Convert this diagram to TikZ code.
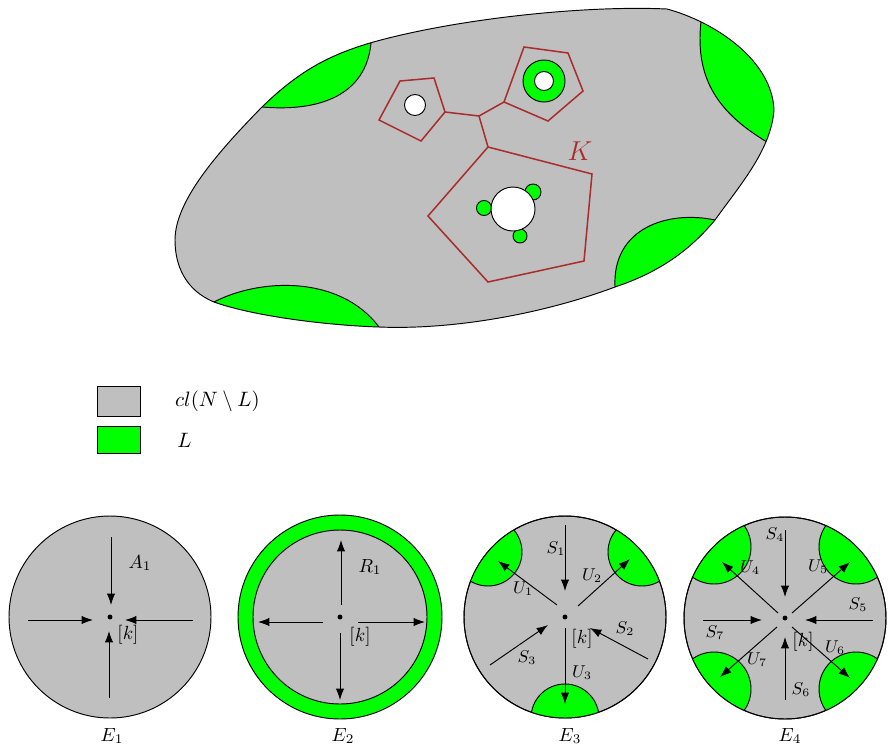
\documentclass[tikz,border=0pt]{standalone}
\usepackage{amsmath,amssymb}
\usepackage{tikz}
\usepackage{xcolor}
\usetikzlibrary{arrows.meta,positioning}

\definecolor{kred}{RGB}{170,45,45}

% outline of the manifold N
\def\blob{(175,240) .. controls (175,200) and (220,150) .. (262,107)
  .. controls (300,70) and (330,55) .. (370,43)
  .. controls (450,20) and (580,5) .. (667,9)
  .. controls (715,22) and (772,60) .. (774,110)
  .. controls (771,150) and (740,185) .. (715,220)
  .. controls (690,250) and (660,272) .. (615,287)
  .. controls (540,315) and (450,330) .. (379,327)
  .. controls (320,325) and (250,315) .. (214,302)
  .. controls (185,290) and (175,265) .. (175,240) -- cycle}

\begin{document}
\begin{tikzpicture}[x=0.0185cm, y=-0.0185cm, every node/.style={font=\normalsize},
    arr/.style={-{Latex[length=6pt,width=4.4pt]}, line width=0.5pt},
    cdot/.style={circle, fill=black, inner sep=0pt, minimum size=2.6pt},
    lbl/.style={font=\small},
    legbox/.style={draw, line width=0.5pt, minimum width=0.81cm, inner sep=0pt}]
  \useasboundingbox (0,0) rectangle (889,749);

  % the manifold N
  \fill[lightgray] \blob;
  \begin{scope}
    \clip \blob;
    \fill[green] (371,43) .. controls (366,95) and (320,112) .. (262,107) -- (200,100) -- (200,0) -- (380,0) -- cycle;
    \fill[green] (702,14) .. controls (692,80) and (720,115) .. (772,145) -- (820,150) -- (820,0) -- (700,0) -- cycle;
    \fill[green] (715,220) .. controls (668,210) and (612,228) .. (615,287) -- (620,340) -- (800,340) -- (800,220) -- cycle;
    \fill[green] (214,302) .. controls (260,278) and (340,275) .. (379,327) -- (390,360) -- (180,360) -- cycle;
    \draw[line width=0.5pt] (371,43) .. controls (366,95) and (320,112) .. (262,107);
    \draw[line width=0.5pt] (702,14) .. controls (692,80) and (720,115) .. (772,145);
    \draw[line width=0.5pt] (715,220) .. controls (668,210) and (612,228) .. (615,287);
    \draw[line width=0.5pt] (214,302) .. controls (260,278) and (340,275) .. (379,327);
  \end{scope}
  \draw[line width=0.5pt] \blob;

  % holes and pieces of L
  \filldraw[fill=white, line width=0.5pt] (415,105) circle[radius=10.5];
  \filldraw[fill=green, line width=0.5pt] (544,81) circle[radius=21];
  \filldraw[fill=white, line width=0.5pt] (544,81) circle[radius=9.5];
  \filldraw[fill=green, line width=0.5pt] (484,208) circle[radius=7.5];
  \filldraw[fill=green, line width=0.5pt] (533,192) circle[radius=8];
  \filldraw[fill=green, line width=0.5pt] (520,236) circle[radius=7];
  \filldraw[fill=white, line width=0.5pt] (513,209) circle[radius=22];

  % the complex K
  \draw[kred, line width=0.8pt] (400,81) -- (434,78) -- (445,112) -- (421,141) -- (379,120) -- cycle;
  \draw[kred, line width=0.8pt] (524,47) -- (568,53) -- (583,91) -- (548,121) -- (504,102) -- cycle;
  \draw[kred, line width=0.8pt] (488,147) -- (592,174) -- (584,261) -- (488,282) -- (428,216) -- cycle;
  \draw[kred, line width=0.8pt] (445,112) -- (479,116) -- (504,102);
  \draw[kred, line width=0.8pt] (479,116) -- (488,147);
  \node[kred, font=\Large] (K) at (580,151) {$K$};

  % legend
  \node[legbox, fill=lightgray, minimum height=0.54cm] (legN) at (119,401.5) {};
  \node[legbox, fill=green, minimum height=0.5cm] (legL) at (119,440) {};
  \node[right=0.5cm of legN, font=\fontsize{11}{13}\selectfont] (txtN) {$cl(N\setminus L)$};
  \node[right=0.54cm of legL, font=\fontsize{11}{13}\selectfont] (txtL) {$L$};

  % E_1
  \coordinate (c1) at (110,617);
  \filldraw[fill=lightgray, line width=0.5pt] (c1) circle[radius=101];
  \node[cdot] (d1) at (c1) {};
  \foreach \a/\b in {{1,-80}/{1,-12}, {-82,3}/{-17,3}, {83,3}/{15,3}, {-1,81}/{-1,14}}
    \draw[arr] ([shift={(\a)}]c1) -- ([shift={(\b)}]c1);
  \node (A1) at ([shift={(30,-54)}]c1) {$A_1$};
  \node (k1) at ([shift={(18,18)}]c1) {$[k]$};
  \node (E1) at (112,736) {$E_1$};

  % E_2
  \coordinate (c2) at (340,617);
  \filldraw[fill=green, line width=0.5pt] (c2) circle[radius=102];
  \filldraw[fill=lightgray, line width=0.5pt] (c2) circle[radius=87];
  \node[cdot] (d2) at (c2) {};
  \foreach \a/\b in {{1,-12}/{1,-77}, {-17,5}/{-82,5}, {18,5}/{85,5}, {0,16}/{0,83}}
    \draw[arr] ([shift={(\a)}]c2) -- ([shift={(\b)}]c2);
  \node (R1) at ([shift={(30,-50)}]c2) {$R_1$};
  \node (k2) at ([shift={(20,20)}]c2) {$[k]$};
  \node (E2) at (343,736) {$E_2$};

  % E_3
  \coordinate (c3) at (565,617);
  \filldraw[fill=lightgray, line width=0.5pt] (c3) circle[radius=101];
  \begin{scope}
    \clip (c3) circle[radius=101];
    \foreach \p in {{-77,-65},{77,-65},{0,101}}
      \filldraw[fill=green, line width=0.5pt] ([shift={(\p)}]c3) circle[radius=34];
  \end{scope}
  \draw[line width=0.5pt] (c3) circle[radius=101];
  \node[cdot] (d3) at (c3) {};
  \foreach \a/\b in {{0,-92}/{0,-26}, {-8,-12}/{-67,-56}, {13,-11}/{65,-58}, {83,42}/{25,11}, {-75,48}/{-17,8}, {0,11}/{0,87}}
    \draw[arr] ([shift={(\a)}]c3) -- ([shift={(\b)}]c3);
  \foreach \p/\t [count=\i] in {{-9,-68}/S_1, {-42,-28}/U_1, {27,-41}/U_2, {60,12}/S_2, {-38,41}/S_3, {17,56}/U_3}
    \node[lbl] (l3\i) at ([shift={(\p)}]c3) {$\t$};
  \node (k3) at ([shift={(17,22)}]c3) {$[k]$};
  \node (E3) at (570,736) {$E_3$};

  % E_4
  \coordinate (c4) at (785,618);
  \filldraw[fill=lightgray, line width=0.5pt] (c4) circle[radius=101];
  \begin{scope}
    \clip (c4) circle[radius=101];
    \foreach \p in {{-71,-71},{71,-71},{71,71},{-71,71}}
      \filldraw[fill=green, line width=0.5pt] ([shift={(\p)}]c4) circle[radius=37];
  \end{scope}
  \draw[line width=0.5pt] (c4) circle[radius=101];
  \node[cdot] (d4) at (c4) {};
  \foreach \a/\b in {{0,-88}/{0,-21}, {-7,-5}/{-63,-56}, {7,-5}/{65,-56}, {88,2}/{20,2}, {7,9}/{65,60}, {0,82}/{0,19}, {-8,9}/{-65,59}, {-82,2}/{-23,2}}
    \draw[arr] ([shift={(\a)}]c4) -- ([shift={(\b)}]c4);
  \foreach \p/\t [count=\i] in {{-10,-83}/S_4, {-35,-50}/U_4, {33,-51}/U_5, {73,-13}/S_5, {50,30}/U_6, {16,72}/S_6, {-28,42}/U_7, {-70,15}/S_7}
    \node[lbl] (l4\i) at ([shift={(\p)}]c4) {$\t$};
  \node (k4) at ([shift={(18,24)}]c4) {$[k]$};
  \node (E4) at (790,736) {$E_4$};
\end{tikzpicture}
\end{document}
